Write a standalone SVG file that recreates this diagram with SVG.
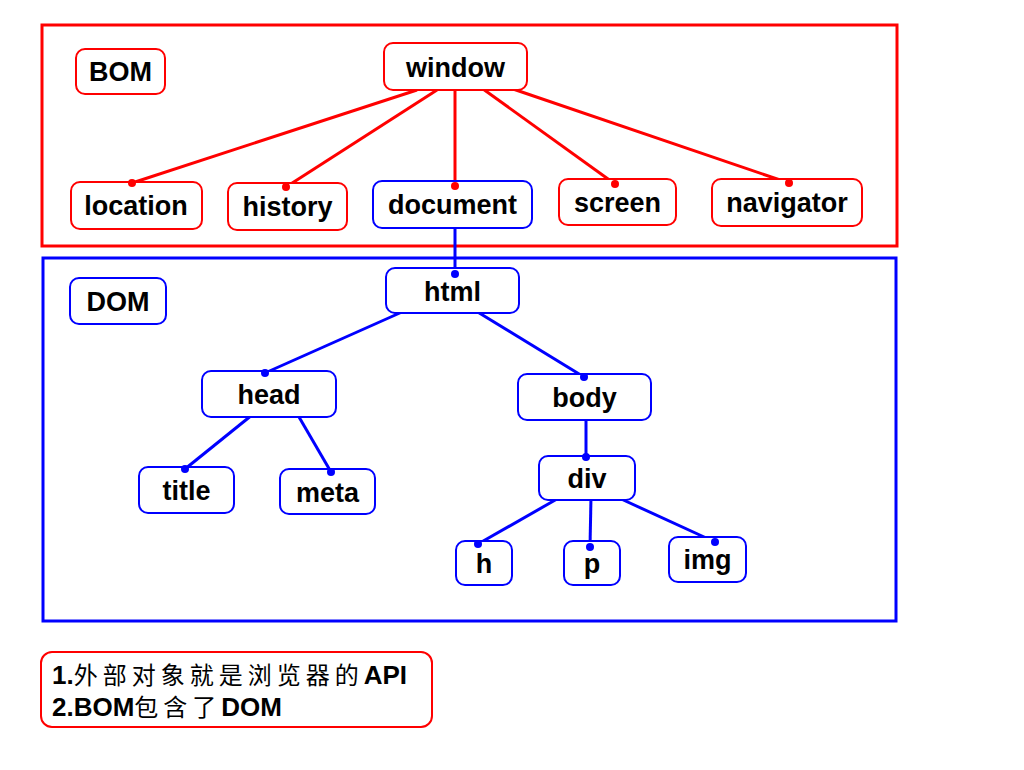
<svg xmlns="http://www.w3.org/2000/svg" width="1024" height="770" viewBox="0 0 1024 770">
<style>
text{font-family:"Liberation Sans",Arial,sans-serif;font-weight:bold;font-size:27px;fill:#000;text-anchor:middle}
.r{fill:#fff;stroke:#f00;stroke-width:2}
.b{fill:#fff;stroke:#00f;stroke-width:2}
.lr{stroke:#f00;stroke-width:3;fill:none}
.lb{stroke:#00f;stroke-width:3;fill:none}
.dr{fill:#f00}
.db{fill:#00f}
.note{font-size:26px;text-anchor:start}
.cjk{font-family:"Noto Sans CJK SC",sans-serif;font-weight:normal;font-size:24px;letter-spacing:5px}
</style>
<rect width="1024" height="770" fill="#fff"/>
<rect x="42" y="25" width="855" height="221" fill="none" stroke="#f00" stroke-width="3"/>
<rect x="43" y="258" width="853" height="363" fill="none" stroke="#00f" stroke-width="3"/>
<g id="connectors">
<line class="lr" x1="417" y1="90" x2="132" y2="183"/>
<line class="lr" x1="437" y1="90" x2="286" y2="187"/>
<line class="lr" x1="455" y1="90" x2="455" y2="186"/>
<line class="lr" x1="483" y1="89" x2="615" y2="184"/>
<line class="lr" x1="513" y1="89" x2="789" y2="183"/>
<line class="lb" x1="455" y1="228" x2="455" y2="274"/>
<line class="lb" x1="402" y1="312" x2="265" y2="373"/>
<line class="lb" x1="476" y1="311" x2="584" y2="377"/>
<line class="lb" x1="252" y1="415" x2="185" y2="469"/>
<line class="lb" x1="299" y1="417" x2="331" y2="472"/>
<line class="lb" x1="586" y1="420" x2="586" y2="457"/>
<line class="lb" x1="557" y1="499" x2="478" y2="544"/>
<line class="lb" x1="591" y1="497" x2="590" y2="547"/>
<line class="lb" x1="619" y1="498" x2="715" y2="542"/>
</g>
<g id="BOM"><rect class="r" x="76" y="49" width="89" height="45" rx="9"/><text x="120.5" y="81">BOM</text></g>
<g id="window"><rect class="r" x="384" y="43" width="143" height="47" rx="9"/><text x="455.5" y="77">window</text></g>
<g id="location"><rect class="r" x="71" y="182" width="131" height="47" rx="9"/><text x="136" y="215">location</text></g>
<g id="history"><rect class="r" x="228" y="183" width="119" height="47" rx="9"/><text x="287.5" y="216">history</text></g>
<g id="document"><rect class="b" x="373" y="181" width="159" height="47" rx="9"/><text x="452.5" y="214">document</text></g>
<g id="screen"><rect class="r" x="559" y="179" width="117" height="46" rx="9"/><text x="617.5" y="212">screen</text></g>
<g id="navigator"><rect class="r" x="712" y="179" width="150" height="47" rx="9"/><text x="787" y="212">navigator</text></g>
<g id="DOM"><rect class="b" x="70" y="278" width="96" height="46" rx="9"/><text x="118" y="311">DOM</text></g>
<g id="html"><rect class="b" x="386" y="268" width="133" height="45" rx="9"/><text x="452.5" y="301">html</text></g>
<g id="head"><rect class="b" x="202" y="371" width="134" height="46" rx="9"/><text x="269" y="404">head</text></g>
<g id="body"><rect class="b" x="518" y="374" width="133" height="46" rx="9"/><text x="584.5" y="407">body</text></g>
<g id="title"><rect class="b" x="139" y="467" width="95" height="46" rx="9"/><text x="186.5" y="500">title</text></g>
<g id="meta"><rect class="b" x="280" y="469" width="95" height="45" rx="9"/><text x="327.5" y="502">meta</text></g>
<g id="div"><rect class="b" x="539" y="456" width="96" height="44" rx="9"/><text x="587" y="488">div</text></g>
<g id="h"><rect class="b" x="456" y="541" width="56" height="44" rx="9"/><text x="484" y="573">h</text></g>
<g id="p"><rect class="b" x="564" y="541" width="56" height="44" rx="9"/><text x="592" y="573">p</text></g>
<g id="img"><rect class="b" x="669" y="537" width="77" height="45" rx="9"/><text x="707.5" y="569">img</text></g>
<g id="dots">
<circle class="dr" cx="132" cy="183" r="4"/>
<circle class="dr" cx="286" cy="187" r="4"/>
<circle class="dr" cx="455" cy="186" r="4"/>
<circle class="dr" cx="615" cy="184" r="4"/>
<circle class="dr" cx="789" cy="183" r="4"/>
<circle class="db" cx="455" cy="274" r="4"/>
<circle class="db" cx="265" cy="373" r="4"/>
<circle class="db" cx="584" cy="377" r="4"/>
<circle class="db" cx="185" cy="469" r="4"/>
<circle class="db" cx="331" cy="472" r="4"/>
<circle class="db" cx="586" cy="457" r="4"/>
<circle class="db" cx="478" cy="544" r="4"/>
<circle class="db" cx="590" cy="547" r="4"/>
<circle class="db" cx="715" cy="542" r="4"/>
</g>
<g id="note">
<rect x="41" y="652" width="391" height="75" rx="11" fill="#fff" stroke="#f00" stroke-width="2"/>
<text class="note" x="52" y="684">1.<tspan class="cjk">外部对象就是浏览器的</tspan>API</text>
<text class="note" x="52" y="716">2.BOM<tspan class="cjk">包含了</tspan>DOM</text>
</g>
</svg>
